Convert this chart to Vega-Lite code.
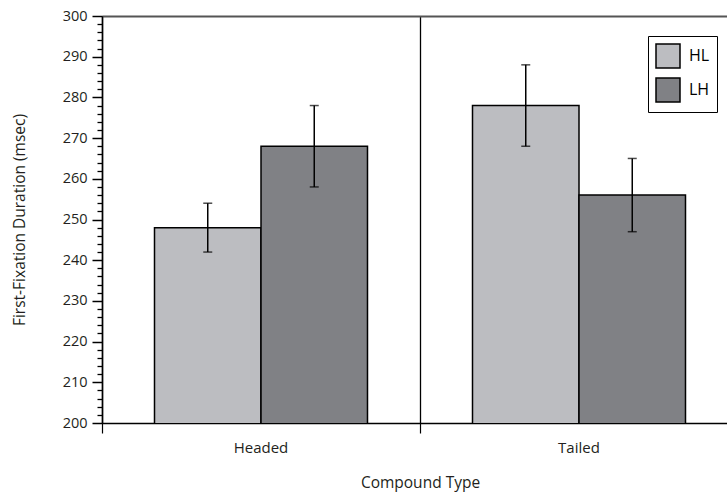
{
  "$schema": "https://vega.github.io/schema/vega-lite/v6.json",
  "autosize": "none",
  "width": 625,
  "height": 407,
  "padding": {"left": 102, "top": 16, "right": 0, "bottom": 71},
  "background": "white",
  "config": {
    "view": {"stroke": null},
    "font": "Open Sans",
    "axis": {"labelFont": "Open Sans", "titleFont": "Open Sans", "labelColor": "#231f20", "titleColor": "#231f20", "titleFontWeight": "normal"}
  },
  "data": {
    "values": [
      {"type": "Headed", "order": "HL", "mean": 248, "lo": 242, "hi": 254},
      {"type": "Headed", "order": "LH", "mean": 268, "lo": 258, "hi": 278},
      {"type": "Tailed", "order": "HL", "mean": 278, "lo": 268, "hi": 288},
      {"type": "Tailed", "order": "LH", "mean": 256, "lo": 247, "hi": 265}
    ]
  },
  "resolve": {"axis": {"x": "independent", "y": "independent"}},
  "layer": [
    {
      "mark": {"type": "bar", "stroke": "#000000", "strokeWidth": 1.5, "clip": true},
      "encoding": {
        "x": {
          "field": "type", "type": "nominal",
          "scale": {"range": [0, 636], "paddingInner": 0, "paddingOuter": 0},
          "axis": {
            "orient": "bottom", "title": "Compound Type", "titleFontSize": 15.5, "titlePadding": 20,
            "labelAngle": 0, "labelFontSize": 15, "labelPadding": 7,
            "bandPosition": 0,
            "tickSize": 10, "tickColor": "#000000", "tickWidth": 1.2,
            "domainColor": "#000000", "domainWidth": 1.5,
            "grid": true, "gridColor": "#000000", "gridWidth": 1.3, "gridOpacity": 1
          }
        },
        "xOffset": {"field": "order", "type": "nominal", "scale": {"paddingInner": 0, "paddingOuter": 0.493}},
        "y": {
          "field": "mean", "type": "quantitative",
          "scale": {"domain": [200, 300], "zero": false, "nice": false},
          "axis": {
            "title": "First-Fixation Duration (msec)", "titleFontSize": 15.5, "titlePadding": 35,
            "values": [200, 210, 220, 230, 240, 250, 260, 270, 280, 290, 300],
            "labelFontSize": 14.5, "labelPadding": 5,
            "tickSize": 10, "tickColor": "#000000", "tickWidth": 1.5,
            "domainColor": "#000000", "domainWidth": 1.5, "grid": false
          }
        },
        "fill": {
          "field": "order", "type": "nominal",
          "scale": {"domain": ["HL", "LH"], "range": ["#bcbdc1", "#808185"]},
          "legend": {
            "title": null, "orient": "none", "legendX": 546, "legendY": 20,
            "symbolType": "square", "symbolSize": 576, "symbolStrokeColor": "#000000", "symbolStrokeWidth": 1.5,
            "labelFont": "Open Sans", "labelFontSize": 16, "labelColor": "#000000", "labelOffset": 8,
            "rowPadding": 4, "padding": 7, "strokeColor": "#000000"
          }
        }
      }
    },
    {
      "mark": {"type": "rule", "color": "#000000", "strokeWidth": 1.5},
      "encoding": {
        "x": {"field": "type", "type": "nominal", "axis": null},
        "xOffset": {"field": "order", "type": "nominal"},
        "y": {
          "field": "lo", "type": "quantitative",
          "axis": {
            "orient": "left", "title": null, "labels": false, "domain": false, "grid": false,
            "values": [202, 204, 206, 208, 212, 214, 216, 218, 222, 224, 226, 228, 232, 234, 236, 238, 242, 244, 246, 248, 252, 254, 256, 258, 262, 264, 266, 268, 272, 274, 276, 278, 282, 284, 286, 288, 292, 294, 296, 298],
            "tickSize": 5, "tickColor": "#000000", "tickWidth": 1.3
          }
        },
        "y2": {"field": "hi"}
      }
    },
    {
      "mark": {"type": "tick", "color": "#000000", "size": 9, "thickness": 1.5},
      "encoding": {
        "x": {
          "field": "type", "type": "nominal",
          "axis": {"orient": "top", "title": null, "labels": false, "ticks": false, "grid": false, "domainColor": "#555555", "domainWidth": 2}
        },
        "xOffset": {"field": "order", "type": "nominal"},
        "y": {"field": "lo", "type": "quantitative", "axis": null}
      }
    },
    {
      "mark": {"type": "tick", "color": "#000000", "size": 9, "thickness": 1.5},
      "encoding": {
        "x": {"field": "type", "type": "nominal", "axis": null},
        "xOffset": {"field": "order", "type": "nominal"},
        "y": {"field": "hi", "type": "quantitative", "axis": null}
      }
    }
  ]
}
